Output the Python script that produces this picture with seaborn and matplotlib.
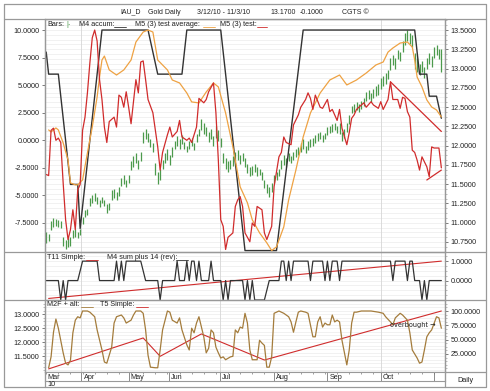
import matplotlib
matplotlib.use("Agg")
import matplotlib.pyplot as plt
import seaborn as sns
from matplotlib.ticker import FormatStrFormatter, MultipleLocator, FixedLocator

# ---- data: one bar per trading day, 3/12/10 .. 11/3/10 (IAU)
bar_low = [10.74, 10.76, 10.90, 10.95, 10.96, 10.95, 10.93, 10.70, 10.66, 10.68,
           10.70, 10.80, 10.82, 10.80, 10.84, 10.98, 11.08, 11.10, 11.22, 11.26,
           11.28, 11.24, 11.20, 11.25, 11.22, 11.12, 11.16, 11.30, 11.32, 11.30,
           11.35, 11.48, 11.50, 11.46, 11.52, 11.68, 11.72, 11.78, 11.70, 11.80,
           12.03, 12.08, 12.05, 11.98, 11.92, 11.62, 11.50, 11.55, 11.70, 11.78,
           11.82, 11.75, 11.85, 11.95, 12.00, 11.96, 12.02, 11.95, 11.92, 11.96,
           12.00, 11.94, 12.05, 12.12, 12.20, 12.15, 12.12, 12.05, 12.08, 12.00,
           12.10, 12.06, 11.98, 11.78, 11.70, 11.66, 11.70, 11.74, 11.80, 11.82,
           11.76, 11.80, 11.72, 11.65, 11.60, 11.62, 11.66, 11.60, 11.62, 11.56,
           11.45, 11.38, 11.33, 11.40, 11.52, 11.56, 11.60, 11.70, 11.75, 11.72,
           11.80, 11.78, 11.82, 11.85, 11.88, 11.92, 11.96, 11.90, 11.94, 11.98,
           12.00, 12.04, 12.06, 12.08, 12.05, 12.08, 12.14, 12.16, 12.18, 12.20,
           12.16, 12.15, 12.06, 12.10, 12.18, 12.28, 12.42, 12.44, 12.46, 12.44,
           12.48, 12.52, 12.58, 12.60, 12.56, 12.62, 12.64, 12.66, 12.74, 12.78,
           12.80, 12.86, 12.98, 13.04, 13.00, 13.12, 13.10, 13.22, 13.30, 13.36,
           13.32, 13.28, 13.00, 12.96, 12.92, 12.96, 12.88, 13.00, 13.06, 13.02,
           13.14, 13.18, 13.12, 12.96]
bar_high = [10.88, 10.86, 11.02, 11.06, 11.05, 11.04, 11.02, 10.82, 10.78, 10.80,
            10.82, 10.90, 10.92, 10.88, 10.92, 11.08, 11.17, 11.18, 11.32, 11.36,
            11.39, 11.34, 11.30, 11.33, 11.30, 11.24, 11.26, 11.42, 11.44, 11.40,
            11.46, 11.58, 11.62, 11.56, 11.62, 11.80, 11.86, 11.90, 11.82, 11.92,
            12.18, 12.22, 12.16, 12.08, 12.04, 11.78, 11.66, 11.70, 11.82, 11.90,
            11.95, 11.88, 11.98, 12.06, 12.12, 12.08, 12.14, 12.05, 12.00, 12.06,
            12.10, 12.04, 12.15, 12.22, 12.34, 12.30, 12.24, 12.18, 12.22, 12.12,
            12.26, 12.20, 12.10, 11.90, 11.84, 11.80, 11.82, 11.86, 11.92, 11.94,
            11.88, 11.90, 11.84, 11.76, 11.72, 11.74, 11.76, 11.72, 11.70, 11.66,
            11.56, 11.50, 11.46, 11.52, 11.62, 11.66, 11.70, 11.82, 11.88, 11.84,
            11.90, 11.86, 11.92, 11.95, 11.98, 12.04, 12.08, 12.00, 12.06, 12.08,
            12.10, 12.14, 12.16, 12.18, 12.14, 12.16, 12.24, 12.26, 12.28, 12.30,
            12.26, 12.30, 12.18, 12.22, 12.30, 12.40, 12.52, 12.54, 12.56, 12.54,
            12.58, 12.62, 12.70, 12.72, 12.68, 12.74, 12.78, 12.80, 12.88, 12.90,
            12.94, 12.98, 13.14, 13.18, 13.14, 13.24, 13.22, 13.36, 13.46, 13.50,
            13.46, 13.44, 13.20, 13.14, 13.06, 13.10, 13.02, 13.14, 13.20, 13.16,
            13.28, 13.30, 13.26, 13.26]
bar_day = list(range(len(bar_low)))

# M4 accum (black, left axis)
accum_day = [0, 1, 5, 10, 13, 14, 23, 42, 46, 56, 58, 72, 82, 95, 106, 152, 154, 157, 158, 161, 163]
accum_val = [8.0, 6.0, 6.0, -4.0, -4.0, -8.0, 10.0, 10.0, 6.0, 6.0, 10.0, 10.0, -10.0, -10.0,
             10.0, 10.0, 6.0, 6.0, 4.0, 4.0, 2.0]

# M5 (3) test average (orange, left axis)
avg_day = [1, 2, 4, 5, 7, 9, 10, 12, 13, 15, 17, 19, 21, 22, 23, 24, 26, 29, 32, 35, 37, 40,
           42, 44, 46, 50, 52, 55, 58, 60, 63, 66, 69, 71, 74, 77, 80, 83, 85, 88, 91, 93, 95,
           98, 100, 103, 106, 109, 113, 117, 121, 124, 128, 132, 136, 139, 141, 143, 146, 149,
           151, 152, 153, 155, 157, 159, 161, 163]
avg_val = [0.94, 0.76, 1.12, 0.94, -0.24, -1.78, -3.86, -4.04, -4.04, -3.59, -1.14, 1.21, 3.93,
           5.74, 7.28, 7.64, 6.38, 5.92, 6.38, 7.28, 8.91, 9.82, 10.0, 9.82, 7.28, 6.38, 5.47,
           5.20, 4.29, 3.48, 3.39, 4.38, 5.20, 4.84, 2.48, -0.60, -4.22, -5.67, -7.21, -8.39,
           -9.30, -10.0, -9.66, -7.85, -5.40, -2.69, 0.31, 2.48, 4.29, 5.47, 5.92, 5.02, 5.47,
           6.10, 6.83, 7.10, 8.0, 8.37, 8.82, 8.91, 8.46, 7.28, 5.74, 4.84, 3.66, 3.02, 2.75, 2.12]

# M5 (3) test (red, left axis)
test_day = [0, 1, 2, 3, 4, 5, 6, 7, 8, 9, 10, 11, 12, 13, 14, 15, 16, 17, 18, 19, 20, 21, 22,
            23, 24, 25, 26, 28, 29, 30, 31, 32, 33, 34, 35, 37, 38, 39, 40, 41, 42, 44, 46, 47,
            48, 50, 51, 52, 54, 55, 56, 58, 59, 60, 62, 63, 65, 66, 67, 69, 70, 71, 72, 73, 74,
            75, 77, 78, 79, 80, 81, 82, 84, 85, 86, 87, 89, 90, 91, 93, 94, 96, 97, 98, 99, 101,
            102, 104, 105, 107, 108, 109, 110, 111, 113, 114, 116, 117, 118, 120, 121, 122, 124,
            125, 126, 127, 128, 130, 131, 132, 134, 135, 137, 138, 139, 141, 142, 143, 145, 146,
            147, 148, 149, 150, 151, 152, 153, 154, 155, 157, 158, 159, 160, 162, 163]
test_val = [-3.1, -3.2, 0.9, 1.1, 0.0, 0.2, -0.2, -3.9, -7.2, -9.0, -8.1, -6.3, -8.1, -4.5,
            -4.0, 0.9, 2.1, 4.3, 7.0, 9.3, 10.0, 9.0, 5.5, 3.7, 1.2, -0.2, 1.7, 2.1, 1.2, 4.1,
            3.9, 3.0, 4.4, 3.0, 1.5, 5.5, 4.3, 7.1, 7.2, 5.5, 3.7, 2.5, -0.6, -2.7, -1.1, 0.5,
            1.2, 0.3, 0.8, 1.8, 0.3, 0.0, 0.2, -0.2, 1.2, 3.8, 3.4, 3.7, 4.4, 5.2, 2.5, -1.8,
            -7.2, -7.8, -9.9, -8.8, -8.4, -6.0, -5.4, -5.1, -6.0, -8.4, -9.2, -7.5, -7.8, -6.0,
            -6.3, -8.4, -9.0, -7.8, -4.2, -1.5, -1.1, 0.3, -0.2, -0.4, 1.4, 2.3, 3.0, 3.7, 4.3,
            3.8, 2.8, 4.1, 3.0, 2.9, 3.7, 2.6, 2.8, 1.8, 2.8, 1.1, -0.4, 0.7, 2.0, 2.3, 2.8, 3.2,
            3.4, 3.0, 3.5, 3.2, 2.9, 3.5, 2.8, 3.7, 5.3, 3.7, 3.7, 2.9, 3.9, 3.8, 2.6, 2.1, -0.9,
            -1.1, -1.8, -2.7, -1.5, -2.4, -3.3, -0.6, -0.7, -0.7, -2.5]
trend_hi_day = [142, 163]
trend_hi_val = [5.3, 0.8]
trend_lo_day = [157, 163]
trend_lo_val = [-3.6, -2.7]

# middle panel: M4 sum plus 14 (rev) (black) and T11 Simple (red)
sum_day = [0, 5, 6, 7, 8, 9, 13, 15, 21, 22, 28, 29, 30, 31, 32, 33, 39, 41, 46, 47, 48, 53,
           54, 55, 57, 58, 59, 60, 61, 62, 63, 64, 67, 68, 69, 72, 73, 74, 75, 76, 81, 82, 83,
           84, 85, 86, 90, 92, 96, 97, 98, 99, 100, 101, 102, 108, 109, 110, 114, 115, 116,
           117, 118, 120, 121, 122, 142, 143, 144, 148, 149, 150, 151, 152, 154, 155, 156, 157,
           158, 163]
sum_val = [0, 0, -1, 0, -1, 0, 0, 1, 1, 0, 0, 1, 0, 1, 0, 1, 1, 0, 0, -1, 0, 0, 1, 0, 0, 1,
           0, 1, 1, 0, 1, 0, 0, 1, 0, 0, -1, 0, -1, 0, 0, -1, 0, -1, 0, -1, -1, 0, 0, 1, 1, 0,
           1, 0, 1, 1, 0, 1, 1, 0, 1, 0, 1, 1, 0, 1, 1, 0, 1, 1, 0, 1, 1, 0, 0, -1, 0, -1, 0, 0]
t11_day = [1, 82, 163]
t11_val = [-0.92, 0.05, 1.0]

# bottom panel: M2F + alt (brown) and T5 Simple (red), right axis 0..100
m2f_day = [1, 2, 3, 4, 5, 7, 8, 9, 10, 11, 12, 13, 14, 15, 17, 18, 20, 21, 23, 24, 25, 27,
           28, 29, 31, 32, 33, 35, 36, 37, 39, 40, 41, 42, 43, 45, 46, 47, 48, 50, 51, 52, 54,
           55, 56, 58, 59, 60, 61, 62, 63, 65, 66, 67, 68, 69, 70, 71, 72, 73, 74, 76, 77, 78,
           79, 80, 81, 82, 83, 84, 85, 87, 88, 89, 90, 91, 92, 93, 94, 96, 97, 98, 100, 101,
           102, 103, 104, 105, 107, 108, 110, 111, 112, 113, 114, 115, 116, 117, 118, 119, 120,
           121, 122, 123, 124, 125, 126, 127, 128, 130, 131, 134, 137, 139, 140, 142, 143, 144,
           146, 147, 149, 150, 151, 153, 154, 155, 156, 157, 158, 159, 161, 162, 163]
m2f_val = [1, 20, 63, 86, 70, 27, 9, 6, 14, 62, 84, 90, 88, 100, 100, 98, 90, 67, 32, 11, 9,
           37, 79, 90, 93, 88, 79, 84, 93, 100, 100, 96, 67, 23, 2, 1, 1, 32, 67, 100, 98, 84,
           79, 88, 67, 41, 32, 70, 62, 79, 90, 55, 27, 35, 67, 62, 37, 27, 18, 20, 15, 20, 21,
           67, 62, 72, 70, 96, 79, 32, 15, 15, 49, 44, 40, 2, 2, 20, 96, 100, 98, 96, 90, 81,
           63, 81, 98, 100, 98, 96, 55, 55, 81, 90, 72, 79, 76, 76, 93, 81, 84, 81, 49, 27, 6,
           32, 79, 98, 98, 100, 100, 100, 98, 96, 90, 81, 76, 88, 96, 93, 84, 62, 32, 18, 9, 11,
           32, 55, 62, 67, 90, 88, 70]
t5_day = [1, 40, 47, 64, 90, 163]
t5_val = [-1, 53, 21, 60, 14.5, 100]

month_names = ["Mar", "Apr", "May", "Jun", "Jul", "Aug", "Sep", "Oct"]
month_start = [-0.5, 14.5, 34, 50.5, 71.5, 94, 116, 138]
month_end_sep = 160
quarter_lines = [14.5, 71.5, 138]

main_left_ticks = [-7.5, -5.0, -2.5, 0.0, 2.5, 5.0, 7.5, 10.0]
main_right_ticks = [10.75, 11.0, 11.25, 11.5, 11.75, 12.0, 12.25, 12.5, 12.75, 13.0, 13.25, 13.5]
mid_ticks = [0.0, 1.0]
low_left_ticks = [11.5, 12.0, 12.5, 13.0]
low_right_ticks = [25, 50, 75, 100]

# ---- style
sns.set_style("white")
plt.rcParams['font.family'] = ['Liberation Sans', 'DejaVu Sans']

W, H = 490, 391
fig = plt.figure(figsize=(W / 100, H / 100), dpi=100)

GREEN = "#4c9a4c"
BLACK = "#333333"
ORANGE = "#eea243"
RED = "#d02c2c"
BROWN = "#a47c3c"
FRAME = "#999999"
GRID = "#ececec"
FS = 5.2


def panel(top, bottom):
    return fig.add_axes([45 / W, 1 - bottom / H, 400 / W, (bottom - top) / H])


def style_axis(ax):
    for s in ax.spines.values():
        s.set_color(FRAME)
        s.set_linewidth(0.8)
    ax.set_xlim(-0.5, 164.5)
    ax.set_xticks([])
    ax.tick_params(axis="y", which="major", labelsize=FS, length=2.5, width=0.6,
                   color="#666666", pad=1.5, labelcolor="#222222")
    ax.tick_params(axis="y", which="minor", length=1.2, width=0.4, color="#888888")
    ax.yaxis.set_major_formatter(FormatStrFormatter("%.4f"))


# main panel
ax1 = panel(19, 252)
ax1r = ax1.twinx()
ax1.set_zorder(2)
ax1r.set_zorder(1)
ax1.patch.set_visible(False)
for a in (ax1, ax1r):
    style_axis(a)
ax1.set_ylim(-10.13, 11.0)
ax1r.set_ylim(10.62, 13.643)
ax1.yaxis.set_major_locator(FixedLocator(main_left_ticks))
ax1r.yaxis.set_major_locator(FixedLocator(main_right_ticks))
ax1r.yaxis.set_minor_locator(MultipleLocator(0.0625))
ax1r.grid(which="both", axis="y", color=GRID, lw=0.5)
for q in quarter_lines:
    ax1r.axvline(q, color="#d6d6d6", lw=0.6)
ax1r.vlines(bar_day, bar_low, bar_high, color=GREEN, lw=0.9)
sns.lineplot(x=accum_day, y=accum_val, ax=ax1, color=BLACK, lw=1.0, estimator=None, sort=False)
sns.lineplot(x=avg_day, y=avg_val, ax=ax1, color=ORANGE, lw=0.9, estimator=None, sort=False)
sns.lineplot(x=test_day, y=test_val, ax=ax1, color=RED, lw=0.9, estimator=None, sort=False)
sns.lineplot(x=trend_hi_day, y=trend_hi_val, ax=ax1, color=RED, lw=0.9, estimator=None, sort=False)
sns.lineplot(x=trend_lo_day, y=trend_lo_val, ax=ax1, color=RED, lw=0.9, estimator=None, sort=False)
ax1.set_xlim(-0.5, 164.5)
ax1r.set_xlim(-0.5, 164.5)

# middle panel
ax2 = panel(252, 300)
style_axis(ax2)
ax2.yaxis.tick_right()
ax2.set_ylim(-1.0, 1.47)
ax2.yaxis.set_major_locator(FixedLocator(mid_ticks))
ax2.yaxis.set_minor_locator(MultipleLocator(0.25))
ax2.grid(which="both", axis="y", color=GRID, lw=0.5)
for q in quarter_lines:
    ax2.axvline(q, color="#d6d6d6", lw=0.6)
sns.lineplot(x=t11_day, y=t11_val, ax=ax2, color=RED, lw=0.8, estimator=None, sort=False)
sns.lineplot(x=sum_day, y=sum_val, ax=ax2, color=BLACK, lw=0.9, estimator=None, sort=False)
ax2.set_xlim(-0.5, 164.5)

# bottom panel
ax3 = panel(300, 372)
ax3r = ax3.twinx()
for a in (ax3, ax3r):
    style_axis(a)
ax3.set_ylim(10.93, 13.5)
ax3r.set_ylim(-6.4, 119.2)
ax3.yaxis.set_major_locator(FixedLocator(low_left_ticks))
ax3r.yaxis.set_major_locator(FixedLocator(low_right_ticks))
ax3.yaxis.set_minor_locator(MultipleLocator(0.125))
ax3r.yaxis.set_minor_locator(MultipleLocator(6.25))
ax3.grid(which="both", axis="y", color=GRID, lw=0.5)
for q in quarter_lines:
    ax3.axvline(q, color="#d6d6d6", lw=0.6)
sns.lineplot(x=t5_day, y=t5_val, ax=ax3r, color=RED, lw=0.8, estimator=None, sort=False)
sns.lineplot(x=m2f_day, y=m2f_val, ax=ax3r, color=BROWN, lw=0.9, estimator=None, sort=False)
ax3r.text(142.0, 75.5, "overbought \u2192", fontsize=FS, color="#222222", va="center",
          family=["DejaVu Sans"], fontstretch="condensed")
ax3.set_xlim(-0.5, 164.5)
ax3r.set_xlim(-0.5, 164.5)

# date strip
axd = panel(372, 381)
axd.set_xlim(-0.5, 164.5)
axd.set_ylim(0, 1)
axd.set_xticks([])
axd.set_yticks([])
for s in axd.spines.values():
    s.set_color(FRAME)
    s.set_linewidth(0.8)
axd.xaxis.set_minor_locator(MultipleLocator(5))
axd.tick_params(axis="x", which="minor", direction="in", top=True, bottom=False,
                length=1.5, width=0.5, color="#777777")
axd.vlines(month_start[1:] + [month_end_sep], 0, 1, color="#777777", lw=0.6)
for name, start in zip(month_names, month_start):
    axd.text(start + 0.9, 0.42, name, fontsize=FS, va="center", ha="left", color="#222222")

# overlay: frame, title, legends
ov = fig.add_axes([0, 0, 1, 1], zorder=10)
ov.set_xlim(0, W)
ov.set_ylim(H, 0)
ov.axis("off")
ov.plot([4, 486, 486, 4, 4], [4, 4, 387, 387, 4], color=FRAME, lw=0.9)
ov.plot([4, 486], [19, 19], color=FRAME, lw=0.9)
for yy in (252, 300):
    ov.plot([4, 486], [yy, yy], color=FRAME, lw=0.9)
ov.plot([445, 486], [372, 372], color=FRAME, lw=0.9)
ov.plot([45, 45], [19, 387], color=FRAME, lw=0.9)
ov.plot([445, 445], [19, 387], color=FRAME, lw=0.9)

title_bits = [(120, "IAU_D"), (148, "Gold Daily"), (197, "3/12/10 - 11/3/10"),
              (270, "13.1700"), (300, "-0.1000"), (342, "CGTS \u00a9")]
for xx, s in title_bits:
    ov.text(xx, 12, s, fontsize=5.0, va="center", ha="left", color="#222222")

ov.text(465, 380, "Daily", fontsize=FS, ha="center", va="center", color="#222222")
ov.text(47, 384.3, "10", fontsize=FS, ha="left", va="center", color="#222222")


def legend_item(x, y, label, color, x0, x1):
    ov.text(x, y, label, fontsize=FS, ha="left", va="center", color="#222222")
    ov.plot([x0, x1], [y + 2.3, y + 2.3], color=color, lw=0.6)


ov.text(47, 25, "Bars:", fontsize=FS, ha="left", va="center", color="#222222")
ov.text(66, 25, "|-", fontsize=FS, ha="left", va="center", color=GREEN)
legend_item(79, 25, "M4 accum:", BLACK, 114, 126)
legend_item(135, 25, "M5 (3) test average:", ORANGE, 203, 215)
legend_item(220, 25, "M5 (3) test:", RED, 257, 267)

legend_item(47, 257.5, "T11 Simple:", RED, 86, 98)
legend_item(107, 257.5, "M4 sum plus 14 (rev):", BLACK, 176, 188)

legend_item(47, 305, "M2F + alt:", BROWN, 81, 93)
legend_item(100, 305, "T5 Simple:", RED, 136, 148)

fig.savefig("out.png", dpi=100)
